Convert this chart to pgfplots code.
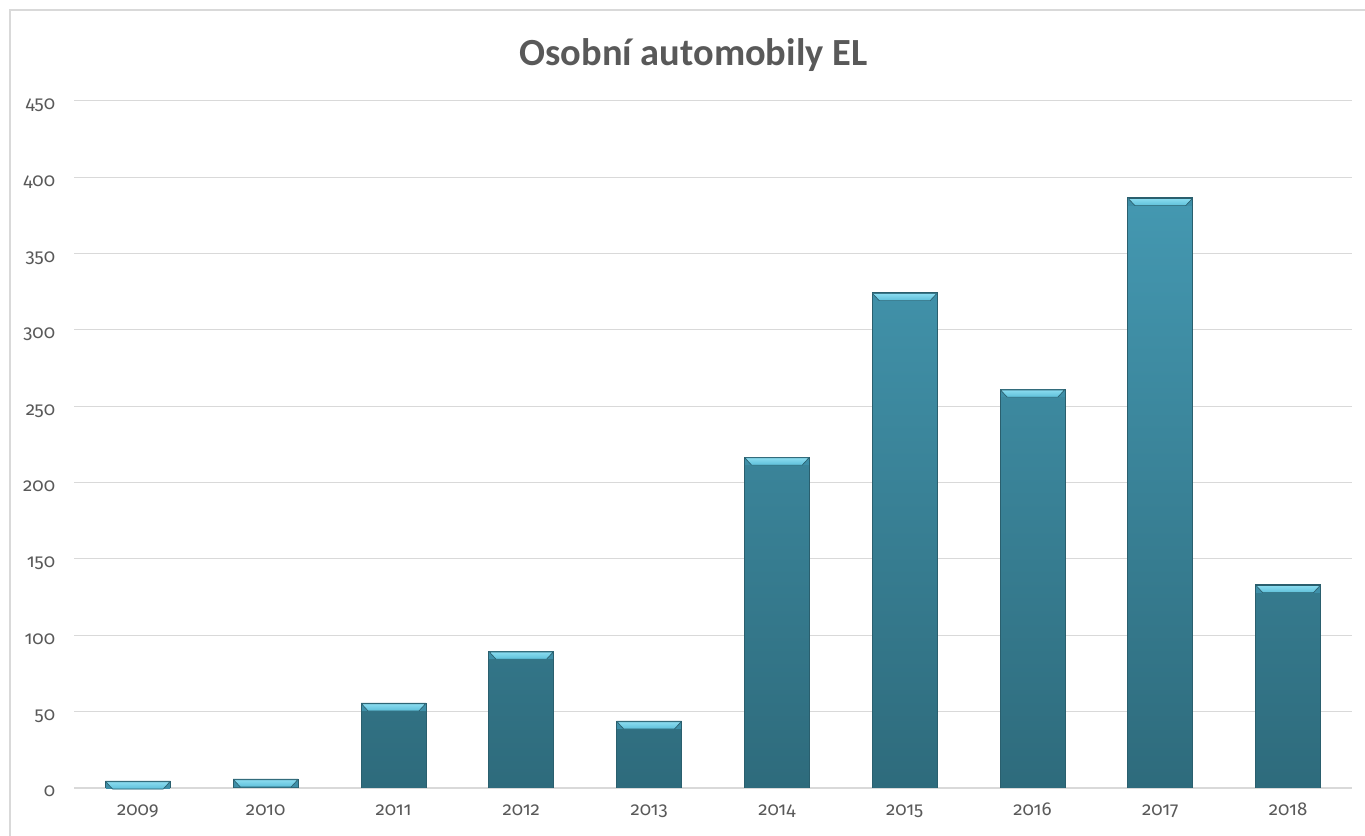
\documentclass[border=0pt]{standalone}
\usepackage{fontspec}
\setmainfont{Carlito}
\newfontfamily\tickfont{Fira Sans}[Numbers=OldStyle]
\usepackage{pgfplots}
\pgfplotsset{compat=1.18}
\definecolor{txt}{HTML}{595959}
\definecolor{gridc}{HTML}{D9D9D9}
\definecolor{barTop}{HTML}{4498B1}
\definecolor{barBot}{HTML}{2E6B7C}
\definecolor{capTop}{HTML}{8ADCF0}
\definecolor{capBot}{HTML}{5DBFD9}
\definecolor{capSide}{HTML}{3E8FA8}
\definecolor{edge}{HTML}{2A5F6E}
\begin{document}
\begin{tikzpicture}
\useasboundingbox (0,0) rectangle (1023.75pt,627pt);
\draw[gridc, line width=1pt] (7.5pt,-5pt) rectangle (1030pt,619.5pt);
\node[text=txt, font=\bfseries\fontsize{28.8}{34}\selectfont] at (520pt,586pt) {Osobní automobily EL};
\begin{axis}[
  at={(55.5pt,36pt)}, anchor=south west,
  scale only axis, width=958.5pt, height=515.25pt,
  xmin=-0.5, xmax=9.5, ymin=0, ymax=450,
  ytick={0,50,...,450},
  xtick={0,...,9},
  xticklabels={2009,2010,2011,2012,2013,2014,2015,2016,2017,2018},
  /pgf/number format/assume math mode=true,
  ticklabel style={text=txt, font=\tickfont\fontsize{14}{17}\selectfont},
  yticklabel style={inner sep=0pt, anchor=base east, xshift=-14pt, yshift=-6.75pt},
  xticklabel style={inner sep=0pt, anchor=base, yshift=-21pt},
  major tick length=0pt,
  axis lines*=left,
  y axis line style={draw=none},
  x axis line style={gridc, line width=1pt, -},
  ymajorgrids, grid style={gridc, line width=0.75pt},
  ybar, bar width=48.75pt,
  nodes near coords={},
  every node near coord/.style={rectangle, minimum width=48pt, minimum height=5.4pt, inner sep=0pt,
    fill=capSide, draw=none, anchor=north, yshift=-0.4pt,
    path picture={
      \fill[top color=capTop, bottom color=capBot, path picture={}]
        (path picture bounding box.north west) -- (path picture bounding box.north east)
        -- ([xshift=-5pt]path picture bounding box.south east)
        -- ([xshift=5pt]path picture bounding box.south west) -- cycle;
    }},
]
\addplot[top color=barTop, bottom color=barBot, draw=edge, line width=0.5pt] coordinates {
  (0,4.6) (1,5.9) (2,55.7) (3,89.7) (4,43.9) (5,216.8) (6,324.4) (7,261.3) (8,386.7) (9,133.2)
};
\end{axis}
\end{tikzpicture}
\end{document}
